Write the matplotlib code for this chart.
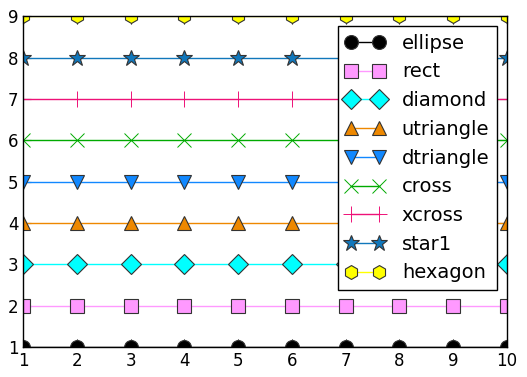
import matplotlib
matplotlib.use('Agg')
import matplotlib.pyplot as plt
import numpy as np

# series names, markers and colours
names = ['ellipse', 'rect', 'diamond', 'utriangle', 'dtriangle',
         'cross', 'xcross', 'star1', 'hexagon']
markers = ['o', 's', 'D', '^', 'v', 'x', '+', '*', 'h']
levels = [1, 2, 3, 4, 5, 6, 7, 8, 9]
xs = [1, 2, 3, 4, 5, 6, 7, 8, 9, 10]
colors = ['#000000', '#ff99ff', '#00ffff', '#ee8800', '#1188ff',
          '#00aa00', '#ee1177', '#1177bb', '#ffff00']
sizes = [10, 10, 10, 10, 10, 10, 11, 12, 10]

fig = plt.figure(figsize=(5.27, 3.77), dpi=100)
ax = fig.add_axes([0.044, 0.080, 0.918, 0.877])

for name, m, lvl, c, s in zip(names, markers, levels, colors, sizes):
    ys = [lvl] * len(xs)
    ax.plot(xs, ys, marker=m, color=c, markerfacecolor=c, markersize=s,
            markeredgecolor='#333333' if m not in ('x', '+') else c,
            markeredgewidth=0.8 if m not in ('x', '+') else 0.7,
            linewidth=1, label=name)

ax.set_xlim(1, 10)
ax.set_ylim(1, 9)
ax.set_xticks(xs)
ax.set_yticks(levels)
ax.tick_params(direction='in', length=6, labelsize=12, top=True, right=True)
for sp in ax.spines.values():
    sp.set_linewidth(1)

leg = ax.legend(loc='upper right', numpoints=2, fontsize=14, fancybox=False,
                framealpha=1, edgecolor='black', borderpad=0.4,
                labelspacing=0.5, handlelength=2.0, handletextpad=0.9,
                borderaxespad=0.5)
leg.get_frame().set_linewidth(1)

fig.savefig('out.png', dpi=100, facecolor='white')
